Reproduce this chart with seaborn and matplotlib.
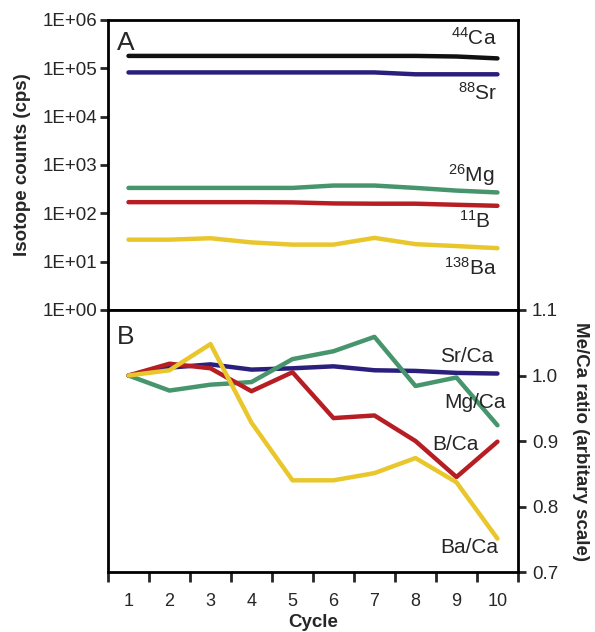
import numpy as np
import pandas as pd
import matplotlib
matplotlib.use("Agg")
import matplotlib.pyplot as plt
from matplotlib.ticker import FixedLocator, NullLocator
import seaborn as sns

# cycles
cycles = list(range(1, 11))

# panel A: raw isotope counts (cps)
ca44 = [1.8e5, 1.8e5, 1.8e5, 1.8e5, 1.8e5, 1.8e5, 1.8e5, 1.8e5, 1.75e5, 1.6e5]
sr88 = [8.2e4, 8.2e4, 8.2e4, 8.2e4, 8.2e4, 8.2e4, 8.2e4, 7.5e4, 7.5e4, 7.5e4]
mg26 = [335, 335, 335, 335, 335, 375, 375, 335, 295, 270]
b11 = [170, 170, 170, 170, 168, 160, 158, 158, 150, 143]
ba138 = [28.5, 28.5, 30.5, 25, 22.5, 22.5, 31, 23, 21, 19]

# panel B: Me/Ca ratios normalised to cycle 1
sr_ca = [1.0, 1.012, 1.017, 1.009, 1.011, 1.014, 1.008, 1.007, 1.004, 1.003]
mg_ca = [1.0, 0.977, 0.986, 0.990, 1.025, 1.037, 1.059, 0.984, 0.997, 0.924]
b_ca = [1.0, 1.018, 1.011, 0.976, 1.005, 0.935, 0.939, 0.900, 0.845, 0.899]
ba_ca = [1.0, 1.008, 1.048, 0.928, 0.840, 0.840, 0.851, 0.874, 0.837, 0.751]

c_black = "#111111"
c_navy = "#2a1f7c"
c_green = "#47956c"
c_red = "#b61e24"
c_yellow = "#e9c72c"

sns.set_style("ticks")
plt.rcParams["font.family"] = ["Liberation Sans", "DejaVu Sans"]
plt.rcParams["mathtext.fontset"] = "custom"
plt.rcParams["mathtext.rm"] = "Liberation Sans"
plt.rcParams["mathtext.it"] = "Liberation Sans:italic"
plt.rcParams["mathtext.bf"] = "Liberation Sans:bold"

top_df = pd.concat([
    pd.DataFrame({"cycle": cycles, "counts": ca44, "isotope": "44Ca"}),
    pd.DataFrame({"cycle": cycles, "counts": sr88, "isotope": "88Sr"}),
    pd.DataFrame({"cycle": cycles, "counts": mg26, "isotope": "26Mg"}),
    pd.DataFrame({"cycle": cycles, "counts": b11, "isotope": "11B"}),
    pd.DataFrame({"cycle": cycles, "counts": ba138, "isotope": "138Ba"}),
])
bot_df = pd.concat([
    pd.DataFrame({"cycle": cycles, "ratio": sr_ca, "element": "Sr/Ca"}),
    pd.DataFrame({"cycle": cycles, "ratio": mg_ca, "element": "Mg/Ca"}),
    pd.DataFrame({"cycle": cycles, "ratio": b_ca, "element": "B/Ca"}),
    pd.DataFrame({"cycle": cycles, "ratio": ba_ca, "element": "Ba/Ca"}),
])

top_pal = {"44Ca": c_black, "88Sr": c_navy, "26Mg": c_green, "11B": c_red, "138Ba": c_yellow}
bot_pal = {"Sr/Ca": c_navy, "Mg/Ca": c_green, "B/Ca": c_red, "Ba/Ca": c_yellow}

fig = plt.figure(figsize=(5.95, 6.32), dpi=100)
ax1 = fig.add_axes([0.1815, 0.5095, 0.689, 0.459])
ax2 = fig.add_axes([0.1815, 0.0949, 0.689, 0.4146])

# --- panel A ---
sns.lineplot(data=top_df, x="cycle", y="counts", hue="isotope", palette=top_pal,
             linewidth=3.2, legend=False, ax=ax1)
ax1.set_yscale("log")
ax1.set_ylim(1, 1e6)
ax1.set_xlim(0.5, 10.5)
ax1.yaxis.set_major_locator(FixedLocator([10.0 ** k for k in range(7)]))
ax1.yaxis.set_minor_locator(NullLocator())
ax1.set_yticklabels(["1E+%02d" % k for k in range(7)])
ax1.set_xticks([])
ax1.set_xlabel("")
ax1.set_ylabel("Isotope counts (cps)", fontsize=13.5, fontweight="bold", labelpad=8)
ax1.tick_params(axis="y", direction="out", length=6, width=2, labelsize=13.5, pad=2)
for s in ax1.spines.values():
    s.set_linewidth(2)
    s.set_color("black")

ax1.text(0.022, 0.897, "A", transform=ax1.transAxes, fontsize=19)
lab_kw = dict(ha="right", va="baseline", fontsize=15)
ax1.text(9.98, 3.0e5, r"$^{44}$Ca", **lab_kw)
ax1.text(10.0, 2.2e4, r"$^{88}$Sr", **lab_kw)
ax1.text(9.93, 450, r"$^{26}$Mg", **lab_kw)
ax1.text(9.85, 50, r"$^{11}$B", **lab_kw)
ax1.text(9.98, 5.3, r"$^{138}$Ba", **lab_kw)

# --- panel B ---
sns.lineplot(data=bot_df, x="cycle", y="ratio", hue="element", palette=bot_pal,
             linewidth=3.2, legend=False, ax=ax2)
ax2.set_ylim(0.7, 1.1)
ax2.set_xlim(0.5, 10.5)
ax2.yaxis.tick_right()
ax2.yaxis.set_label_position("right")
ax2.set_yticks([0.7, 0.8, 0.9, 1.0, 1.1])
ax2.set_yticklabels(["0.7", "0.8", "0.9", "1.0", "1.1"])
ax2.set_xticks(np.arange(0.5, 11.0, 1.0))
ax2.set_xticklabels([])
ax2.set_xticks(cycles, minor=True)
ax2.set_xticklabels([str(c) for c in cycles], minor=True)
ax2.tick_params(axis="x", which="major", direction="out", length=7, width=2)
ax2.tick_params(axis="x", which="minor", length=0, labelsize=13, pad=15)
ax2.tick_params(axis="y", direction="out", length=6, width=2, labelsize=13.5, pad=4)
ax2.set_xlabel("Cycle", fontsize=13.5, fontweight="bold", labelpad=3)
ax2.set_ylabel("Me/Ca ratio (arbitary scale)", fontsize=13.5, fontweight="bold",
               rotation=270, labelpad=22)
for k in ["left", "right", "bottom", "top"]:
    ax2.spines[k].set_linewidth(2)
    ax2.spines[k].set_color("black")

ax2.text(0.022, 0.870, "B", transform=ax2.transAxes, fontsize=19)
rl_kw = dict(ha="right", va="baseline", fontsize=15)
ax2.text(9.89, 1.0207, "Sr/Ca", **rl_kw)
ax2.text(10.21, 0.951, "Mg/Ca", **rl_kw)
ax2.text(9.55, 0.887, "B/Ca", **rl_kw)
ax2.text(10.01, 0.729, "Ba/Ca", **rl_kw)

fig.savefig("out.png", dpi=100)
plt.close(fig)
